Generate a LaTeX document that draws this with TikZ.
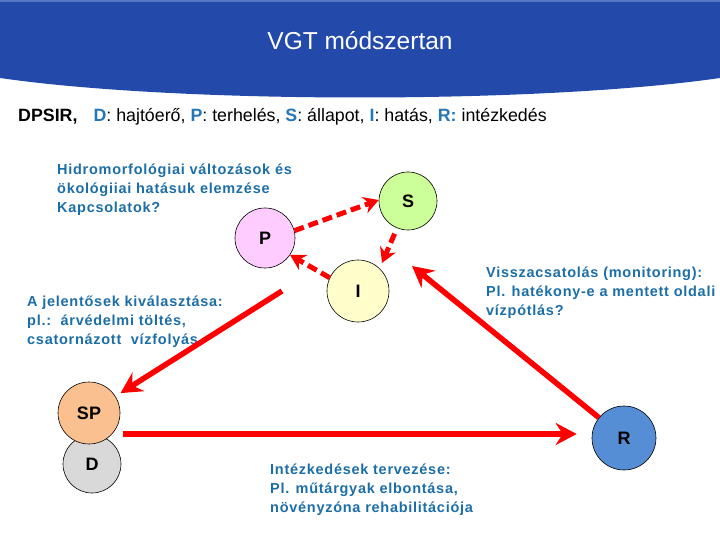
\documentclass[tikz,border=0pt]{standalone}
\usepackage{fontspec}
\setmainfont{Liberation Sans}
\usepackage{tikz}
\usetikzlibrary{
  arrows.meta,
  positioning,
  calc
}
\definecolor{vgtHead}{HTML}{234AAA}
\definecolor{vgtEdge}{HTML}{5577C4}
\definecolor{vgtText}{HTML}{1C6EA6}
\definecolor{vgtKey}{HTML}{2377B8}
\definecolor{vgtRed}{HTML}{FF0000}
\definecolor{fillS}{HTML}{CCFF99}
\definecolor{fillP}{HTML}{FFCCFF}
\definecolor{fillI}{HTML}{FFFFCC}
\definecolor{fillSP}{HTML}{FAC090}
\definecolor{fillD}{HTML}{D9D9D9}
\definecolor{fillR}{HTML}{558ED5}
\tikzset{
  phase/.style={
    draw=black, line width=0.6pt, circle, inner sep=0pt, minimum size=60pt,
    font=\fontsize{18}{18}\selectfont\bfseries
  },
  note/.style={
    anchor=north west, inner sep=0pt, align=left, text=vgtText,
    font=\fontsize{14.5}{19}\selectfont\bfseries\addfontfeature{LetterSpace=5}
  },
  loop/.style={-{Stealth[length=21pt, width=22pt, inset=7pt]}, line width=5.5pt, vgtRed},
  link/.style={-{Stealth[length=15pt, width=17pt, inset=5pt]}, line width=5pt, vgtRed,
    dash pattern=on 10pt off 5pt},
  key/.style={text=vgtKey}
}
\newcommand{\dpkey}[1]{\textcolor{vgtKey}{\bfseries #1}}

\begin{document}
\begin{tikzpicture}[x=1pt, y=-1pt]
  \useasboundingbox (0,0) rectangle (720,540);
  % header band
  \fill[vgtHead] (0,0) -- (720,0) -- (720,78) .. controls (540,104) and (180,104) .. (0,78) -- cycle;
  \fill[vgtEdge] (0,0) rectangle (720,2);
  \node[text=white, font=\fontsize{24.5}{24.5}\selectfont] (title) at (360,41) {VGT módszertan};
  \node[anchor=west, inner sep=0pt, font=\fontsize{17.8}{17.8}\selectfont] (dpsir) at (18,117)
    {\textbf{DPSIR,}\hspace{16pt}\dpkey{D}: hajtóerő, \dpkey{P}: terhelés, \dpkey{S}: állapot, \dpkey{I}: hatás, \dpkey{R:} intézkedés};

  % DPSIR circles
  \node[phase, fill=fillS, minimum size=58pt] (S) at (408,201) {S};
  \node[phase, fill=fillP] (P) at (265,238) {P};
  \node[phase, fill=fillI, minimum size=62pt] (I) at (358,291) {I};
  \node[phase, fill=fillD, minimum size=58pt] (D) at (92,464) {D};
  \node[phase, fill=fillSP, minimum size=62pt] (SP) at (89,413) {SP};
  \node[phase, fill=fillR, minimum size=64pt] (R) at (624,438) {R};

  % notes
  \node[note] (hidro) at (57,164) {Hidromorfológiai változások és\\ökológiiai hatásuk elemzése\\Kapcsolatok?};
  \node[note] (jelent) at (27,296) {A jelentősek kiválasztása:\\pl.:\ \ árvédelmi töltés,\\csatornázott\ \ vízfolyás};
  \node[note] (vissza) at (486,267) {Visszacsatolás (monitoring):\\Pl. hatékony-e a mentett oldali\\vízpótlás?};
  \node[note] (intez) at (270,464) {Intézkedések tervezése:\\Pl. műtárgyak elbontása,\\növényzóna rehabilitációja};

  % free ends
  \coordinate (si) at (382,263);
  \coordinate (isp) at (282,291);
  \coordinate (rfb) at (412,266);

  % connectors
  \draw[link] (P.14) -- (S.178);
  \draw[link, shorten <=6pt] (S.-112) -- (si);
  \draw[link] (I.155) -- (P.-34);
  \draw[loop, shorten >=6pt] (isp) -- (SP);
  \draw[loop, shorten <=3pt, shorten >=15pt] ([yshift=4pt]R.west -| SP.east) -- ([yshift=4pt]R.west);
  \draw[loop] (R) -- (rfb);
\end{tikzpicture}
\end{document}
